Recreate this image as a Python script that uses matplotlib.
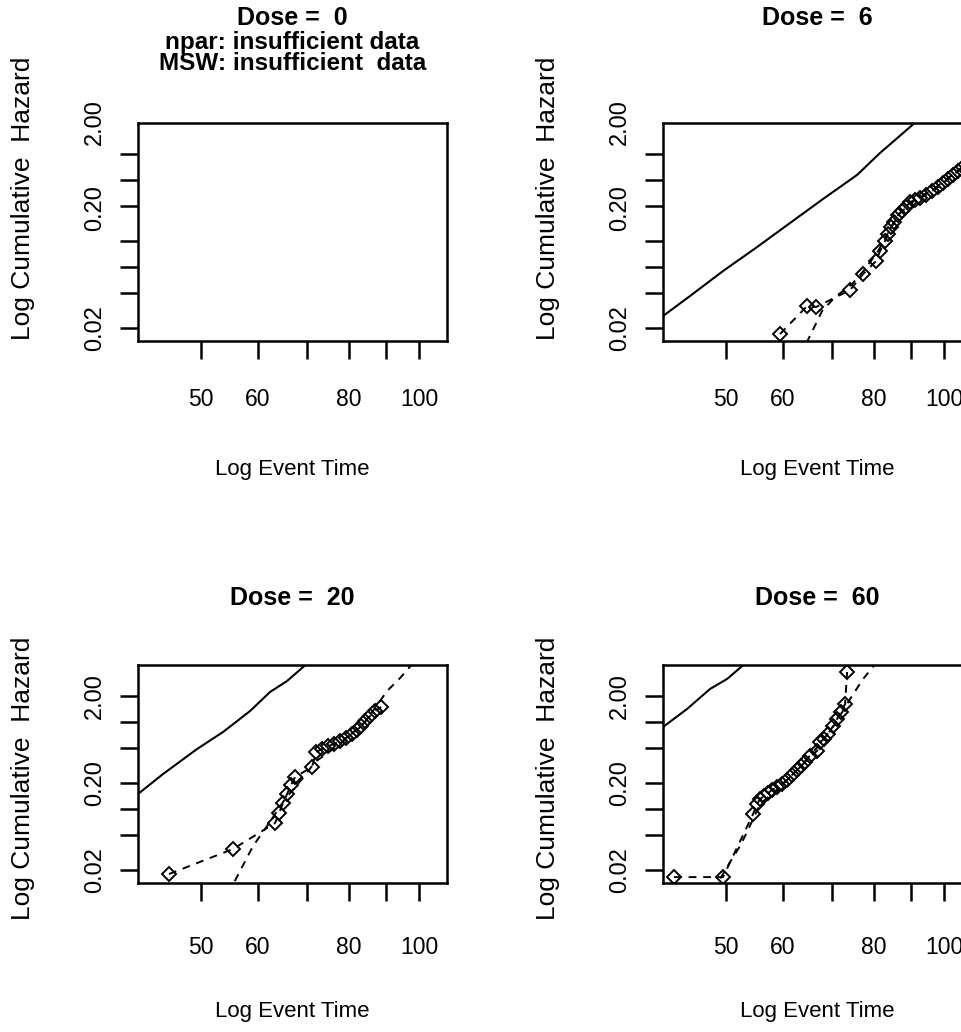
import matplotlib
matplotlib.use("Agg")
from matplotlib import pyplot as plt
from matplotlib.ticker import NullLocator

plt.rcParams['font.family'] = ['Liberation Sans', 'DejaVu Sans']

# Panel titles
doses = ["0", "6", "20", "60"]
notes_0 = ["npar: insufficient data", "MSW: insufficient  data"]

# Axes: log event time (x) and log cumulative hazard (y)
x_limits = (41.0, 109.3)
x_ticks = [50, 60, 70, 80, 90, 100]
x_tick_labels = ["50", "60", "", "80", "", "100"]
y_limits = (0.0142, 4.54)
y_ticks = [0.02, 0.05, 0.1, 0.2, 0.5, 1, 2]
y_tick_labels = ["0.02", "0.20", "2.00"]
y_label_pos_top = [0.02, 0.48, 4.66]
y_label_pos_bottom = [0.02, 0.2, 2.0]

# Dose = 6
solid_x_6 = [41.0, 44.67, 49.6, 55.26, 61.36, 68.14, 75.91, 81.65, 91.8]
solid_y_6 = [0.0275, 0.0467, 0.0904, 0.1705, 0.3224, 0.6086, 1.15, 2.057, 4.79]
pts_x_6 = [59.44, 64.76, 66.64, 74.23, 77.36, 80.62, 81.65, 82.96, 83.76, 84.56,
           85.36, 86.46, 87.56, 88.68, 89.81, 91.25, 92.71, 94.49, 96.31, 98.16,
           99.72, 101.33, 102.93, 104.59, 106.26]
pts_y_6 = [0.0171, 0.0358, 0.0349, 0.0547, 0.0835, 0.1178, 0.1535, 0.2, 0.2407, 0.2898,
           0.3308, 0.398, 0.4426, 0.4918, 0.5616, 0.592, 0.6249, 0.676, 0.7512, 0.835,
           0.9296, 1.032, 1.147, 1.275, 1.418]
fit_x_6 = [63.34, 67.92, 70.78, 74.71, 77.86, 81.14, 84.29, 87.01, 91.25, 97.23, 106.94]
fit_y_6 = [0.0095, 0.0314, 0.0454, 0.0641, 0.0953, 0.1535, 0.2746, 0.4201, 0.592, 0.8143, 1.495]

# Dose = 20
solid_x_20 = [41.0, 44.39, 49.45, 53.70, 58.51, 62.34, 65.80, 70.78]
solid_y_20 = [0.1495, 0.2538, 0.4918, 0.7714, 1.344, 2.224, 2.974, 5.05]
pts_x_20 = [45.24, 55.43, 63.34, 64.15, 64.97, 65.80, 66.64, 67.49, 71.23, 72.14,
            73.53, 74.94, 76.39, 77.86, 79.36, 80.88, 82.17, 83.22, 84.29, 85.63,
            87.01, 88.68]
pts_y_20 = [0.018, 0.0349, 0.0694, 0.0904, 0.1178, 0.1495, 0.1898, 0.2344, 0.3056, 0.4544,
            0.4918, 0.5326, 0.5616, 0.6086, 0.658, 0.7316, 0.8143, 0.904, 1.032, 1.178,
            1.344, 1.495]
fit_x_20 = [54.56, 59.06, 61.75, 65.38, 69.01, 71.91, 77.86, 84.29, 90.38, 94.19, 98.47]
fit_y_20 = [0.0106, 0.0377, 0.0641, 0.131, 0.2224, 0.3486, 0.5616, 1.005, 2.282, 3.22, 4.92]

# Dose = 60
solid_x_60 = [41.0, 44.25, 47.60, 50.24, 53.70]
solid_y_60 = [0.8806, 1.418, 2.408, 3.136, 5.05]
pts_x_60 = [42.46, 49.60, 54.56, 55.26, 55.79, 56.50, 57.22, 57.95, 58.88, 59.82,
            60.78, 61.75, 62.74, 63.54, 64.35, 65.38, 66.85, 67.49, 68.36, 69.23,
            70.34, 71.23, 72.14, 73.07, 73.53]
pts_y_60 = [0.0166, 0.0166, 0.088, 0.1147, 0.131, 0.1418, 0.1535, 0.1663, 0.1799, 0.1948,
            0.2167, 0.2474, 0.2824, 0.3136, 0.3486, 0.4086, 0.4664, 0.592, 0.641, 0.7316,
            0.904, 1.088, 1.31, 1.618, 3.774]
fit_x_60 = [48.05, 50.72, 52.35, 53.53, 55.79, 59.44, 63.34, 67.49, 70.78, 74.23, 77.36, 80.88]
fit_y_60 = [0.0115, 0.0247, 0.0377, 0.0547, 0.1147, 0.1799, 0.3056, 0.5616, 0.953, 1.847, 3.136, 4.92]

panels = {
    "6": (solid_x_6, solid_y_6, pts_x_6, pts_y_6, fit_x_6, fit_y_6),
    "20": (solid_x_20, solid_y_20, pts_x_20, pts_y_20, fit_x_20, fit_y_20),
    "60": (solid_x_60, solid_y_60, pts_x_60, pts_y_60, fit_x_60, fit_y_60),
}

W, H = 961, 1032
fig = plt.figure(figsize=(W / 100, H / 100), dpi=100)

# box positions in pixels: left, top, bottom (width 309)
boxes = [(138, 123, 341), (663, 123, 341), (138, 665, 883), (663, 665, 883)]
box_w = 309

for i, dose in enumerate(doses):
    left, top, bottom = boxes[i]
    ax = fig.add_axes([left / W, (H - bottom) / H, box_w / W, (bottom - top) / H])
    ax.set_xscale("log")
    ax.set_yscale("log")
    ax.set_xlim(x_limits)
    ax.set_ylim(y_limits)

    if dose in panels:
        sx, sy, px, py, fx, fy = panels[dose]
        ax.plot(sx, sy, color="black", lw=1.5)
        ax.plot(px, py, color="black", lw=1.4, ls=(0, (4, 3.5)),
                marker="D", ms=7.5, mfc="none", mec="black", mew=1.4)
        ax.plot(fx, fy, color="black", lw=1.4, ls=(0, (4, 3.5)))

    for s in ax.spines.values():
        s.set_linewidth(1.8)

    ax.set_xticks(x_ticks)
    ax.set_xticklabels(x_tick_labels, fontsize=16.5)
    ax.set_yticks(y_ticks)
    ax.set_yticklabels([""] * len(y_ticks))
    ax.xaxis.set_minor_locator(NullLocator())
    ax.yaxis.set_minor_locator(NullLocator())
    top_row = i < 2
    ax.tick_params(axis="both", direction="out", length=13, width=1.8)
    ax.tick_params(axis="x", pad=21 if top_row else 25)

    h = bottom - top
    label_pos = y_label_pos_top if top_row else y_label_pos_bottom
    for lab, yv in zip(y_tick_labels, label_pos):
        ax.text(-43 / box_w, yv, lab, transform=ax.get_yaxis_transform(),
                rotation=90, ha="center", va="center", fontsize=17, clip_on=False)

    ylab_y = (bottom - 198) / h if top_row else (bottom - 778) / h
    ax.text(-115 / box_w, ylab_y, "Log Cumulative  Hazard", transform=ax.transAxes,
            rotation=90, ha="center", va="center", fontsize=19)
    ax.text(0.5, -129 / h, "Log Event Time", transform=ax.transAxes,
            ha="center", va="center", fontsize=16)

    title_y = (bottom - (18 if top_row else 598)) / h
    ax.text(0.5, title_y, "Dose =  " + dose, transform=ax.transAxes,
            ha="center", va="center", fontsize=18, fontweight="bold")
    if dose == "0":
        ax.text(0.5, (bottom - 43) / h, notes_0[0], transform=ax.transAxes,
                ha="center", va="center", fontsize=17.5, fontweight="bold")
        ax.text(0.5, (bottom - 64) / h, notes_0[1], transform=ax.transAxes,
                ha="center", va="center", fontsize=17.5, fontweight="bold")

fig.savefig("out.png", dpi=100)
